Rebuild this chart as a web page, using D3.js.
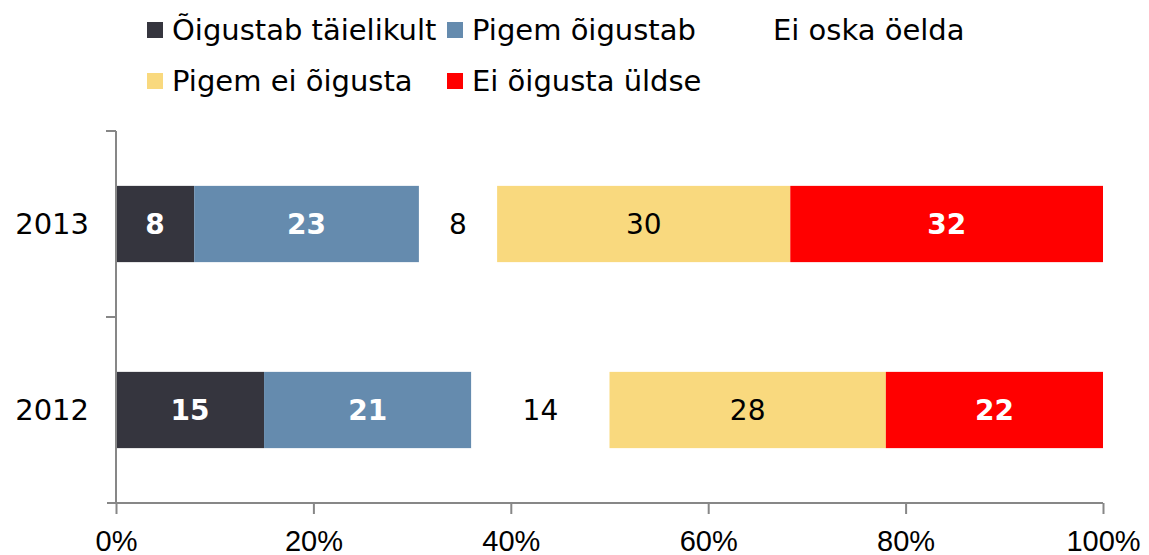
<!DOCTYPE html>
<html>
<head>
<meta charset="utf-8">
<script src="https://cdn.jsdelivr.net/npm/d3@7"></script>
<style>
  body { margin: 0; background: #fff; }
  svg { display: block; font-family: "DejaVu Sans", Verdana, sans-serif; }
  .axis path, .axis line { stroke: #878787; stroke-width: 2; }
</style>
</head>
<body>
<div id="chart"></div>
<script>
// Categories, series and values
const years = ["2013", "2012"];
const seriesNames = ["Õigustab täielikult", "Pigem õigustab", "Ei oska öelda", "Pigem ei õigusta", "Ei õigusta üldse"];
const seriesColors = ["#35353e", "#658bae", "#ffffff", "#f9d97e", "#ff0000"];
const labelColors = ["#ffffff", "#ffffff", "#000000", "#000000", "#ffffff"];
const labelWeights = ["bold", "bold", "normal", "normal", "bold"];
const values2013 = [8, 23, 8, 30, 32];
const values2012 = [15, 21, 14, 28, 22];
const xTicks = [0, 0.2, 0.4, 0.6, 0.8, 1];

const width = 1149, height = 555;
const margin = { top: 131, right: 46, bottom: 52, left: 116 };
const innerWidth = width - margin.left - margin.right;
const innerHeight = height - margin.top - margin.bottom;

const svg = d3.select("#chart")
    .append("svg")
    .attr("width", width)
    .attr("height", height);

const innerChart = svg.append("g")
    .attr("transform", `translate(${margin.left},${margin.top})`);

/*****************/
/* Build stacks  */
/*****************/
const valuesByYear = { "2013": values2013, "2012": values2012 };
const rows = years.map(y => {
    const vals = valuesByYear[y];
    const total = d3.sum(vals); // 2013 sums to 101, so shares are normalised
    let acc = 0;
    return vals.map((v, i) => {
        const seg = { year: y, i, value: v, x0: acc / total, x1: (acc + v) / total };
        acc += v;
        return seg;
    });
});

/**********/
/* Scales */
/**********/
const xScale = d3.scaleLinear().domain([0, 1]).range([0, innerWidth]);
const yScale = d3.scaleBand().domain(years).range([0, innerHeight]).paddingInner(0.59).paddingOuter(0.295);

/*************/
/* Draw bars */
/*************/
const segs = innerChart.selectAll("g.seg")
    .data(rows.flat())
    .join("g")
    .attr("class", "seg");

segs.append("rect")
    .attr("x", d => xScale(d.x0))
    .attr("y", d => yScale(d.year))
    .attr("width", d => xScale(d.x1) - xScale(d.x0))
    .attr("height", yScale.bandwidth())
    .attr("fill", d => seriesColors[d.i]);

segs.append("text")
    .text(d => d.value)
    .attr("x", d => (xScale(d.x0) + xScale(d.x1)) / 2)
    .attr("y", d => yScale(d.year) + yScale.bandwidth() / 2)
    .attr("dy", "0.36em")
    .attr("text-anchor", "middle")
    .attr("font-size", 28)
    .attr("font-weight", d => labelWeights[d.i])
    .attr("fill", d => labelColors[d.i]);

/********/
/* Axes */
/********/
const bottomAxis = d3.axisBottom(xScale)
    .tickValues(xTicks)
    .tickFormat(d3.format(".0%"))
    .tickSize(11)
    .tickSizeOuter(0)
    .tickPadding(0);

const xAxisG = innerChart.append("g")
    .attr("class", "axis")
    .attr("transform", `translate(0,${innerHeight})`)
    .call(bottomAxis);
xAxisG.select(".domain").attr("d", `M-9,0H${innerWidth}`);
xAxisG.selectAll("text")
    .attr("font-size", 29)
    .attr("y", 48)
    .attr("dy", null)
    .attr("fill", "#000");

// Category axis: ticks sit on band boundaries, labels at band centres
const yAxisG = innerChart.append("g").attr("class", "axis");
yAxisG.append("line")
    .attr("x1", 0).attr("x2", 0)
    .attr("y1", 0).attr("y2", innerHeight);
const boundaries = [0, ...years.slice(1).map(y => yScale(y) - yScale.step() * yScale.paddingInner() / 2)];
yAxisG.selectAll("line.tick")
    .data(boundaries)
    .join("line")
    .attr("class", "tick")
    .attr("x1", -10).attr("x2", 0)
    .attr("y1", d => d).attr("y2", d => d);
yAxisG.selectAll("text")
    .data(years)
    .join("text")
    .text(d => d)
    .attr("x", -27)
    .attr("y", d => yScale(d) + yScale.bandwidth() / 2)
    .attr("dy", "0.36em")
    .attr("text-anchor", "end")
    .attr("font-size", 29)
    .attr("fill", "#000");

/**********/
/* Legend */
/**********/
const legendPos = [[147, 30], [447, 30], [748, 30], [147, 81], [447, 81]];
const legend = svg.selectAll("g.legend")
    .data(seriesNames)
    .join("g")
    .attr("class", "legend")
    .attr("transform", (d, i) => `translate(${legendPos[i][0]},${legendPos[i][1]})`);

legend.append("rect")
    .attr("x", 0).attr("y", -8)
    .attr("width", 16).attr("height", 16)
    .attr("fill", (d, i) => seriesColors[i]);

legend.append("text")
    .text(d => d)
    .attr("x", 25)
    .attr("dy", "0.36em")
    .attr("font-size", 29)
    .attr("fill", "#000");
</script>
</body>
</html>
